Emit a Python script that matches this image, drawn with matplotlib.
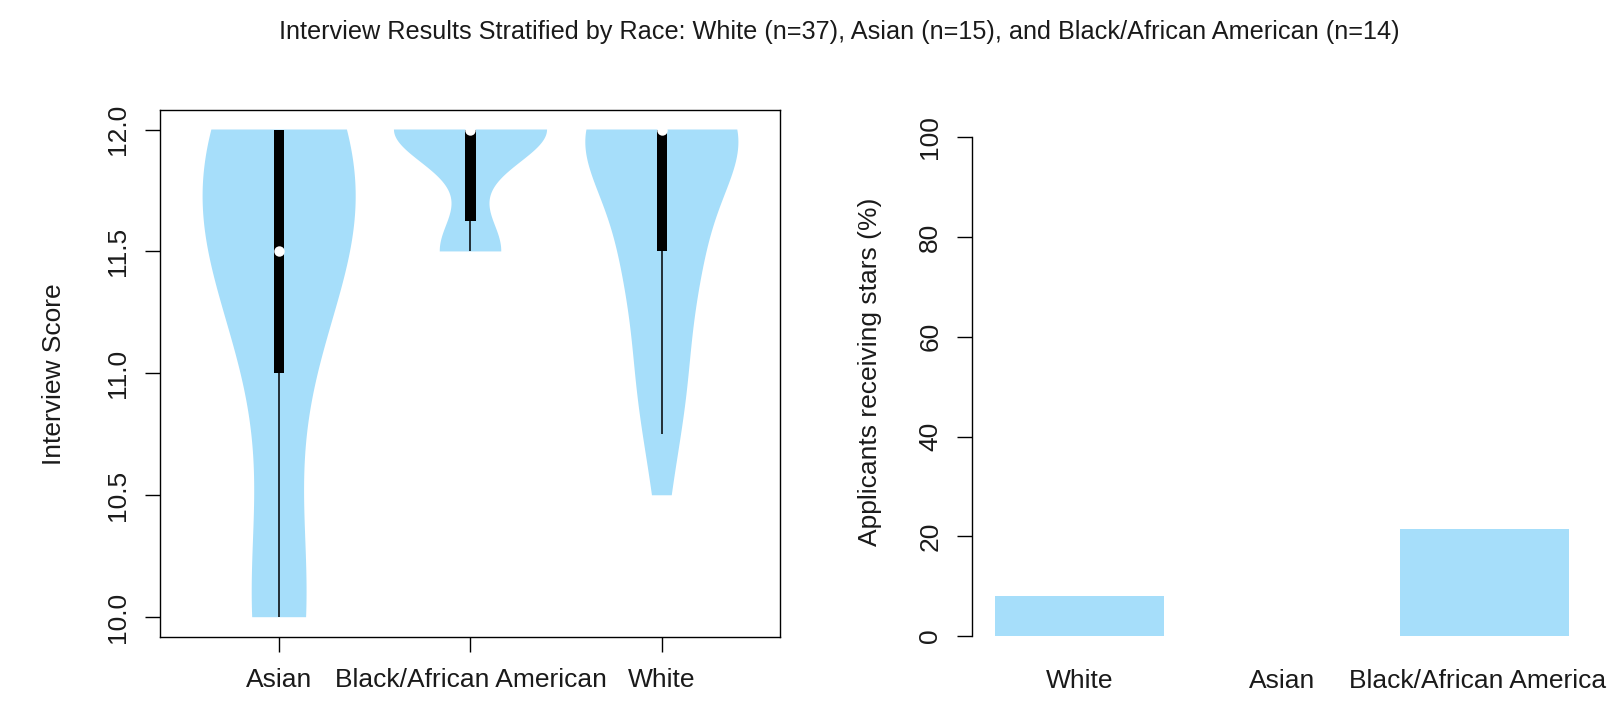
import matplotlib
matplotlib.use("Agg")
import matplotlib.pyplot as plt
import numpy as np

plt.rcParams["font.family"] = ["Liberation Sans", "DejaVu Sans"]

# Interview scores per applicant, grouped by race
groups = ["Asian", "Black/African American", "White"]
asian_scores = [10.0, 10.0, 10.0, 10.75, 11.25, 11.5, 11.5, 11.5, 11.5, 11.75,
                12.0, 12.0, 12.0, 12.0, 12.0]
black_scores = [11.5] * 4 + [12.0] * 10
white_scores = ([10.5, 10.75, 10.75, 11.0, 11.0, 11.0, 11.0, 11.25, 11.25]
                + [11.5] * 7 + [11.75] * 2 + [12.0] * 19)
scores = [asian_scores, black_scores, white_scores]

# Share of applicants who received stars (%)
bar_groups = ["White", "Asian", "Black/African American"]
stars_pct = [8.1, 0.0, 21.4]

title = ("Interview Results Stratified by Race: White (n=37), "
         "Asian (n=15), and Black/African American (n=14)")

fill = "#a6defa"
bandwidths = [0.58, 0.6, 0.55]  # kde smoothing factor for each violin
fs = 19

fig = plt.figure(figsize=(16.08, 7.02), dpi=100)
W, H = 1608, 702
ax1 = fig.add_axes([160.5 / W, 1 - 636.7 / H, 620 / W, 526.7 / H])
ax2 = fig.add_axes([972.5 / W, 1 - 656 / H, 619.6 / W, 538.6 / H])

# --- violins with inner box, whisker and median ---
pos = np.arange(1, len(groups) + 1)
for p, vals, bw in zip(pos, scores, bandwidths):
    parts = ax1.violinplot([vals], positions=[p], widths=0.8, bw_method=bw,
                           showextrema=False, points=200)
    for body in parts["bodies"]:
        body.set_facecolor(fill)
        body.set_edgecolor("none")
        body.set_alpha(1)

    v = np.asarray(vals)
    q1, med, q3 = np.percentile(v, [25, 50, 75])
    iqr = q3 - q1
    lo = max(q1 - 1.5 * iqr, v.min())
    hi = min(q3 + 1.5 * iqr, v.max())
    ax1.vlines(p, lo, hi, color="black", lw=1.1, zorder=3)
    ax1.bar(p, q3 - q1, bottom=q1, width=0.055, color="black", zorder=4)
    ax1.plot(p, med, "o", color="white", ms=7.5, mec="none", zorder=5)

ax1.set_xlim(0.38, 3.62)
ax1.set_ylim(9.92, 12.08)
ax1.set_xticks(pos)
ax1.set_xticklabels(groups)
ax1.set_yticks([10.0, 10.5, 11.0, 11.5, 12.0])
ax1.set_yticklabels(["10.0", "10.5", "11.0", "11.5", "12.0"])
ax1.tick_params(axis="both", length=10.8, width=1, labelsize=fs,
                labelcolor="#1a1a1a")
ax1.tick_params(axis="x", pad=12)
ax1.tick_params(axis="y", pad=11)
for lab in ax1.get_yticklabels():
    lab.set_rotation(90)
    lab.set_va("center")
for s in ax1.spines.values():
    s.set_linewidth(1.0)

# --- bars ---
xb = 0.7 + 1.2 * np.arange(len(bar_groups))
ax2.bar(xb, stars_pct, width=1.0, color=fill)
ax2.set_xlim(0.064, 3.736)
ax2.set_ylim(-4, 104)
ax2.set_xticks(xb)
ax2.set_xticklabels(bar_groups)
ax2.set_yticks([0, 20, 40, 60, 80, 100])
ax2.tick_params(axis="x", length=0, pad=9, labelsize=fs, labelcolor="#1a1a1a")
ax2.tick_params(axis="y", length=10.8, width=1, pad=11, labelsize=fs,
                labelcolor="#1a1a1a")
for lab in ax2.get_yticklabels():
    lab.set_rotation(90)
    lab.set_va("center")
for side in ["top", "right", "bottom"]:
    ax2.spines[side].set_visible(False)
ax2.spines["left"].set_bounds(0, 100)
ax2.spines["left"].set_linewidth(1.0)

fig.text(54 / W, 1 - 374 / H, "Interview Score", rotation=90,
         ha="center", va="center", fontsize=fs, color="#1a1a1a")
fig.text(870 / W, 1 - 372 / H, "Applicants receiving stars (%)", rotation=90,
         ha="center", va="center", fontsize=fs, color="#1a1a1a")
fig.text(839 / W, 1 - 32 / H, title, ha="center", va="center",
         fontsize=18.2, color="#1a1a1a")

fig.savefig("out.png", dpi=100)
